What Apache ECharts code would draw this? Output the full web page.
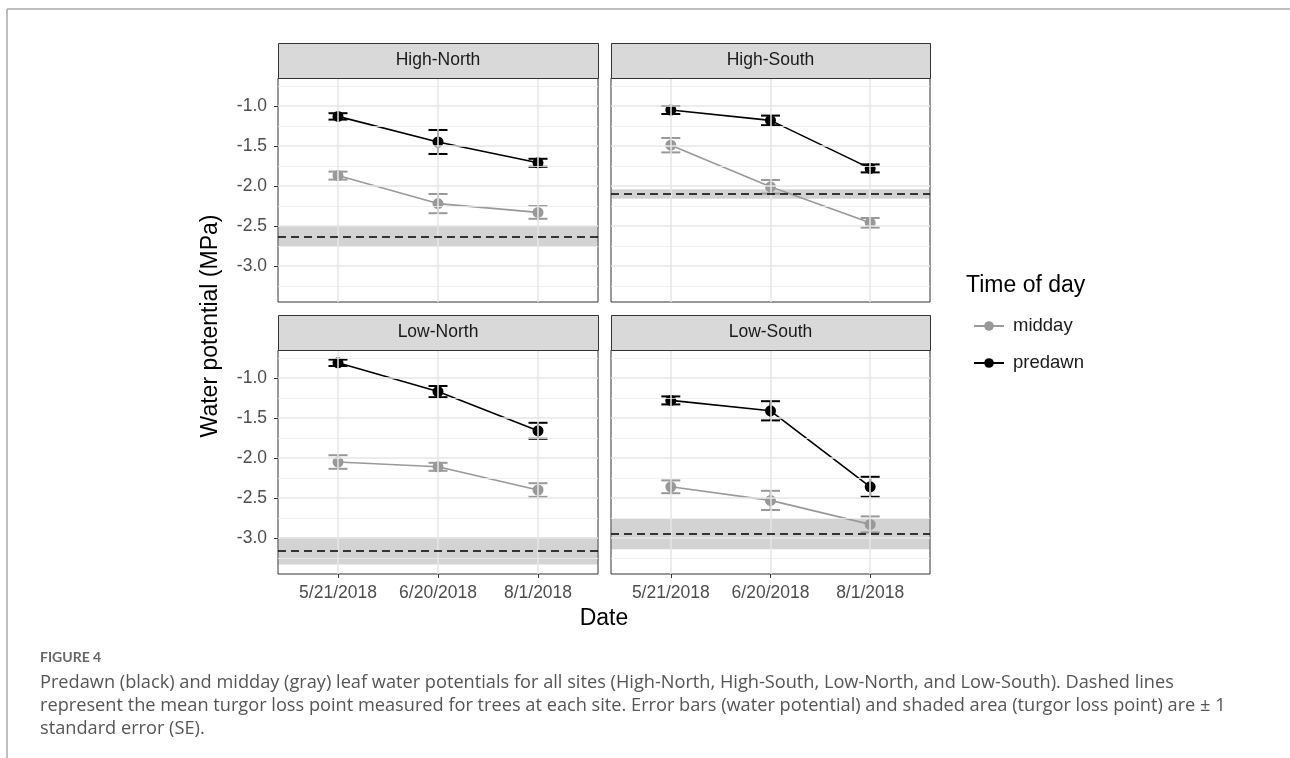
<!DOCTYPE html>
<html>
<head>
<meta charset="utf-8">
<script src="https://cdn.jsdelivr.net/npm/echarts@6/dist/echarts.min.js"></script>
<style>
html,body{margin:0;padding:0;background:#fff;}
#chart{width:1290px;height:758px;}
</style>
</head>
<body>
<div id="chart"></div>
<script>
// ---- data ----
const dates = ['5/21/2018', '6/20/2018', '8/1/2018'];
const panels = ['High-North', 'High-South', 'Low-North', 'Low-South'];
const predawnMean = [
  [-1.13, -1.45, -1.71],
  [-1.05, -1.18, -1.78],
  [-0.81, -1.17, -1.66],
  [-1.28, -1.41, -2.36]
];
const predawnSE = [
  [0.04, 0.15, 0.05],
  [0.05, 0.06, 0.05],
  [0.04, 0.07, 0.10],
  [0.05, 0.12, 0.125]
];
const middayMean = [
  [-1.87, -2.22, -2.33],
  [-1.49, -2.01, -2.46],
  [-2.05, -2.11, -2.40],
  [-2.36, -2.53, -2.83]
];
const middaySE = [
  [0.05, 0.12, 0.08],
  [0.09, 0.085, 0.06],
  [0.085, 0.05, 0.085],
  [0.08, 0.12, 0.10]
];
const tlpMean = [-2.63, -2.10, -3.16, -2.95];
const tlpSE = [0.13, 0.06, 0.17, 0.19];
const yTicks = [-3.0, -2.5, -2.0, -1.5, -1.0];
const yMinor = [-3.25, -2.75, -2.25, -1.75, -1.25, -0.75];

// ---- layout ----
const FONT = '"Liberation Sans", Arial, sans-serif';
const gridPos = [
  {left: 278, top: 78, width: 320, height: 224},
  {left: 611, top: 78, width: 319, height: 224},
  {left: 278, top: 350, width: 320, height: 224},
  {left: 611, top: 350, width: 319, height: 224}
];
const STRIP_H = 35;
const COL_MID = '#999999';
const COL_PRE = '#000000';

const grids = [], xAxes = [], yAxes = [], series = [], graphics = [];

function errRender(color) {
  return function (params, api) {
    const x = api.value(0), lo = api.value(1), hi = api.value(2);
    const a = api.coord([x, hi]), b = api.coord([x, lo]);
    const w = 9.5;
    const st = {stroke: color, lineWidth: 2};
    return {type: 'group', children: [
      {type: 'line', shape: {x1: a[0], y1: a[1], x2: b[0], y2: b[1]}, style: st},
      {type: 'line', shape: {x1: a[0] - w, y1: a[1], x2: a[0] + w, y2: a[1]}, style: st},
      {type: 'line', shape: {x1: b[0] - w, y1: b[1], x2: b[0] + w, y2: b[1]}, style: st}
    ]};
  };
}

panels.forEach((name, i) => {
  const g = gridPos[i];
  const isLeft = (i % 2 === 0), isBottom = (i >= 2);
  grids.push({left: g.left, top: g.top, width: g.width, height: g.height,
    show: true, backgroundColor: '#fff', borderColor: '#333333', borderWidth: 1, containLabel: false});
  xAxes.push({type: 'value', gridIndex: i, min: 0.4, max: 3.6,
    axisLine: {show: false}, splitLine: {show: false},
    axisTick: {show: isBottom, customValues: [1, 2, 3], length: 4, lineStyle: {color: '#333', width: 1}},
    axisLabel: {show: isBottom, customValues: [1, 2, 3], formatter: v => dates[Math.round(v) - 1] || '',
      color: '#4D4D4D', fontSize: 17.5, fontFamily: FONT, margin: 10}
  });
  yAxes.push({type: 'value', gridIndex: i, min: -3.45, max: -0.65,
    axisLine: {show: false}, splitLine: {show: false},
    axisTick: {show: isLeft, customValues: yTicks, length: 4, lineStyle: {color: '#333', width: 1}},
    axisLabel: {show: isLeft, customValues: yTicks, formatter: v => v.toFixed(1),
      color: '#4D4D4D', fontSize: 17.5, fontFamily: FONT, margin: 11}
  });

  // gridlines + band
  const gl = [];
  yMinor.forEach(v => gl.push({yAxis: v, lineStyle: {color: '#EEEEEE', width: 0.8, type: 'solid'}}));
  yTicks.forEach(v => gl.push({yAxis: v, lineStyle: {color: '#E6E6E6', width: 1.5, type: 'solid'}}));
  [1, 2, 3].forEach(v => gl.push({xAxis: v, lineStyle: {color: '#E6E6E6', width: 1.5, type: 'solid'}}));
  series.push({type: 'line', xAxisIndex: i, yAxisIndex: i, data: [], z: 1, silent: true,
    markLine: {silent: true, symbol: 'none', label: {show: false}, animation: false, data: gl},
    markArea: {silent: true, animation: false, itemStyle: {color: 'rgba(128,128,128,0.35)'},
      data: [[{yAxis: tlpMean[i] - tlpSE[i]}, {yAxis: tlpMean[i] + tlpSE[i]}]]}
  });
  // dashed TLP line
  series.push({type: 'line', xAxisIndex: i, yAxisIndex: i, data: [], z: 2, silent: true,
    markLine: {silent: true, symbol: 'none', label: {show: false}, animation: false,
      data: [{yAxis: tlpMean[i], lineStyle: {color: '#000', width: 1.6, type: [8, 5]}}]}
  });
  // error bars
  [[middayMean, middaySE, COL_MID], [predawnMean, predawnSE, COL_PRE]].forEach(([m, s, c]) => {
    series.push({type: 'custom', xAxisIndex: i, yAxisIndex: i, z: 3, silent: true,
      renderItem: errRender(c), encode: {x: 0, y: [1, 2]},
      data: m[i].map((v, k) => [k + 1, v - s[i][k], v + s[i][k]])});
  });
  // lines + points
  series.push({type: 'line', name: 'midday', xAxisIndex: i, yAxisIndex: i, z: 4,
    data: middayMean[i].map((v, k) => [k + 1, v]),
    symbol: 'circle', symbolSize: 11, showAllSymbol: true,
    lineStyle: {color: COL_MID, width: 1.6}, itemStyle: {color: COL_MID, borderWidth: 0}});
  series.push({type: 'line', name: 'predawn', xAxisIndex: i, yAxisIndex: i, z: 4,
    data: predawnMean[i].map((v, k) => [k + 1, v]),
    symbol: 'circle', symbolSize: 11, showAllSymbol: true,
    lineStyle: {color: COL_PRE, width: 1.6}, itemStyle: {color: COL_PRE, borderWidth: 0}});

  // strip
  graphics.push({type: 'rect', left: g.left, top: g.top - STRIP_H,
    shape: {width: g.width, height: STRIP_H},
    style: {fill: '#D9D9D9', stroke: '#333333', lineWidth: 1}, z: 10});
  graphics.push({type: 'text', x: g.left + g.width / 2, y: g.top - STRIP_H / 2,
    style: {text: name, fill: '#1A1A1A', font: '17.5px ' + FONT, textAlign: 'center', textVerticalAlign: 'middle'}, z: 11});
});

// axis titles, legend title
graphics.push({type: 'text', x: 211, y: 326, rotation: Math.PI / 2,
  style: {text: 'Water potential (MPa)', fill: '#000', font: '23px ' + FONT, textAlign: 'center', textVerticalAlign: 'middle'}});
graphics.push({type: 'text', x: 604, y: 619,
  style: {text: 'Date', fill: '#000', font: '23px ' + FONT, textAlign: 'center', textVerticalAlign: 'middle'}});
graphics.push({type: 'text', x: 966, y: 286,
  style: {text: 'Time of day', fill: '#000', font: '23px ' + FONT, textAlign: 'left', textVerticalAlign: 'middle'}});

// frame
graphics.push({type: 'line', shape: {x1: 7, y1: 9, x2: 1290, y2: 9}, style: {stroke: '#A8A8A8', lineWidth: 1.5}});
graphics.push({type: 'line', shape: {x1: 7, y1: 9, x2: 7, y2: 758}, style: {stroke: '#A8A8A8', lineWidth: 1.5}});

// caption
const CAP = '"Open Sans", Lato, sans-serif';
graphics.push({type: 'text', x: 40, y: 657,
  style: {text: 'FIGURE 4', fill: '#666', font: 'bold 14px Lato, sans-serif', textAlign: 'left', textVerticalAlign: 'middle'}});
const capLines = [
  'Predawn (black) and midday (gray) leaf water potentials for all sites (High-North, High-South, Low-North, and Low-South). Dashed lines',
  'represent the mean turgor loss point measured for trees at each site. Error bars (water potential) and shaded area (turgor loss point) are \u00B1 1',
  'standard error (SE).'
];
capLines.forEach((t, k) => graphics.push({type: 'text', x: 40, y: 683 + k * 23,
  style: {text: t, fill: '#555', font: '18.2px ' + CAP, textAlign: 'left', textVerticalAlign: 'middle'}}));

const chart = echarts.init(document.getElementById('chart'), null, {renderer: 'canvas'});
chart.setOption({
  animation: false,
  backgroundColor: '#fff',
  grid: grids, xAxis: xAxes, yAxis: yAxes, series: series,
  legend: {data: ['midday', 'predawn'], orient: 'vertical', left: 968, top: 311,
    itemWidth: 30, itemHeight: 12, itemGap: 17, selectedMode: false,
    textStyle: {color: '#1A1A1A', fontSize: 18.5, fontFamily: FONT, lineHeight: 20, padding: [0, 0, 0, 4]}},
  graphic: graphics
});
</script>
</body>
</html>
